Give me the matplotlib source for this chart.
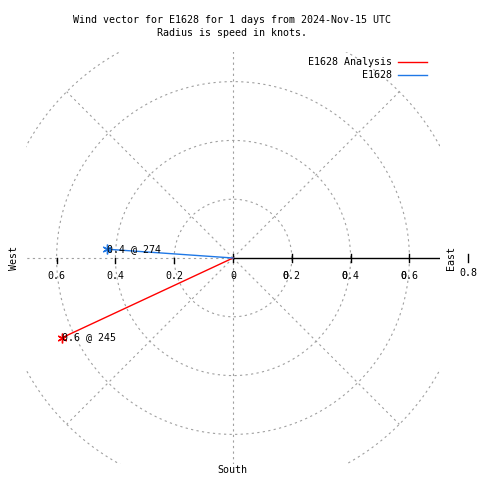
import numpy as np
import matplotlib
matplotlib.use("Agg")
import matplotlib.pyplot as plt

# wind vectors (speed in knots, direction in degrees)
names = ["E1628 Analysis", "E1628"]
speeds = [0.64, 0.43]
directions = [245, 274]
colors = ["#ff0000", "#1f78e6"]

ring_radii = [0.2, 0.4, 0.6, 0.8]
tick_vals = [0.2, 0.4, 0.6]
spoke_angles = [45, 135, 225, 315]

title = "Wind vector for E1628 for 1 days from 2024-Nov-15 UTC"
subtitle = "Radius is speed in knots."

plt.rcParams['font.family'] = ['DejaVu Sans Mono']
fs = 7.2
grey = "#a0a0a0"
dash = (0, (2, 3))

W = 480
fig = plt.figure(figsize=(4.8, 4.8), dpi=100)
ppu = 294.0  # pixels per knot
left, right, top, bottom = 26, 440, 52, 464
cx, cy = 233, 258
ax = fig.add_axes([left / W, 1 - bottom / W, (right - left) / W, (bottom - top) / W])
ax.set_xlim(-(cx - left) / ppu, (right - cx) / ppu)
ax.set_ylim(-(bottom - cy) / ppu, (cy - top) / ppu)
ax.axis("off")

def fx(px):
    return px / W

def fy(py):
    return 1 - py / W

# rings and spokes
th = np.linspace(0, 2 * np.pi, 400)
for r in ring_radii:
    ax.plot(r * np.cos(th), r * np.sin(th), color=grey, lw=0.8, ls=dash)
for a in spoke_angles:
    t = np.radians(a)
    ax.plot([0, 0.8 * np.cos(t)], [0, 0.8 * np.sin(t)], color=grey, lw=0.8, ls=dash)
ax.plot([0, 0], [-0.8, 0.8], color=grey, lw=0.8, ls=dash)
ax.plot([-0.8, 0], [0, 0], color=grey, lw=0.8, ls=dash)

# east axis
ax.plot([0, 0.8], [0, 0], color="black", lw=1.0)
for v in tick_vals:
    ax.plot([v, v], [0.012, -0.014], color="black", lw=1.0)
    ax.plot([-v, -v], [0, -0.016], color="black", lw=1.0)
    ax.text(v, -0.062, "%.1f" % v, ha="center", va="center", fontsize=fs)
    ax.text(v - 0.021, -0.062, "0", ha="center", va="center", fontsize=fs)
    ax.text(-v, -0.062, "%.1f" % v, ha="center", va="center", fontsize=fs)
ax.plot([0, 0], [0.012, -0.014], color="black", lw=1.0)
ax.text(0, -0.062, "0", ha="center", va="center", fontsize=fs)
ax.text(0, -0.062, "-", ha="center", va="center", fontsize=fs)
ax.plot([0.8, 0.8], [0.012, -0.012], color="black", lw=1.0, clip_on=False)
ax.text(0.8, -0.05, "0.8", ha="center", va="center", fontsize=fs, clip_on=False)

# vectors
for s, d, c in zip(speeds, directions, colors):
    t = np.radians(d)
    x, y = s * np.sin(t), s * np.cos(t)
    ax.plot([0, x], [0, y], color=c, lw=1.0)
    ax.plot(x, y, marker=(6, 2, 0), color=c, ms=7, mew=1.0)
    ax.text(x, y, "%.1f @ %d" % (s, d), ha="left", va="center", fontsize=fs)

# titles and compass labels
fig.text(fx(232), fy(20), title, ha="center", va="center", fontsize=fs)
fig.text(fx(232), fy(33), subtitle, ha="center", va="center", fontsize=fs)
fig.text(fx(14), fy(258), "West", rotation=90, ha="center", va="center", fontsize=fs)
fig.text(fx(451), fy(258), "East", rotation=90, ha="center", va="center", fontsize=fs)
fig.text(fx(232), fy(470), "South", ha="center", va="center", fontsize=fs)

# legend
for i, (n, c) in enumerate(zip(names, colors)):
    yy = 62 + i * 13
    fig.text(fx(392), fy(yy), n, ha="right", va="center", fontsize=fs)
    fig.add_artist(plt.Line2D([fx(398), fx(427)], [fy(yy), fy(yy)], color=c, lw=1.0))

fig.savefig("out.png", dpi=100)
